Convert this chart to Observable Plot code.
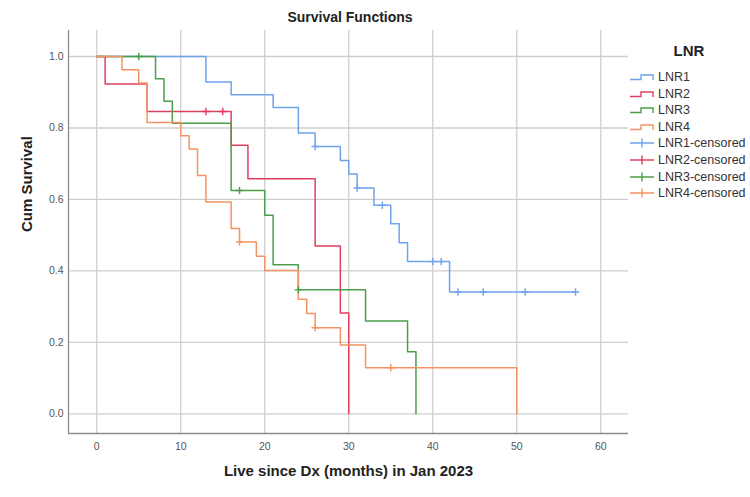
<!DOCTYPE html>
<html>
<head>
<meta charset="utf-8">
<script src="https://cdn.jsdelivr.net/npm/d3@7"></script>
<script src="https://cdn.jsdelivr.net/npm/@observablehq/plot@0.6"></script>
<style>
  html, body { margin: 0; padding: 0; background: #fff; }
  body { font-family: "Liberation Sans", Arial, sans-serif; }
  #wrap { position: relative; width: 750px; height: 497px; overflow: hidden; }
  #title { position: absolute; top: 0; left: 0; width: 700px; height: 30px; line-height: 34px;
           text-align: center; font-weight: bold; font-size: 14px; color: #222; }
  #chart { position: absolute; top: 30px; left: 0; }
  #legend { position: absolute; left: 628px; top: 40px; width: 122px; }
  #legend .head { position: absolute; left: 0; width: 122px; top: 2px; text-align: center;
                  font-weight: bold; font-size: 15px; color: #222; }
  #legend .row { position: absolute; left: 0; height: 16px; display: flex; align-items: center;
                 font-size: 12.5px; color: #333; white-space: nowrap; }
  #legend svg { margin-right: 3px; flex: none; }
</style>
</head>
<body>
<div id="wrap">
  <div id="title">Survival Functions</div>
  <div id="chart"></div>
  <div id="legend"></div>
</div>
<script>
// Kaplan–Meier step curves per LNR group: event times (months) and cumulative survival
const groups = ["LNR1", "LNR2", "LNR3", "LNR4"];
const colors = ["#6fa3ea", "#e0405f", "#4c9f4a", "#f59462"];

const lnr1Time = [0, 13, 16, 21, 24, 26, 29, 30, 31, 33, 35, 36, 37, 42, 57];
const lnr1Surv = [1, 0.929, 0.893, 0.857, 0.786, 0.748, 0.709, 0.671, 0.632, 0.584, 0.532, 0.479, 0.426, 0.341, 0.341];
const lnr1Censored = [26, 31, 34, 40, 41, 43, 46, 51, 57];

const lnr2Time = [0, 1, 6, 16, 18, 26, 29, 30];
const lnr2Surv = [1, 0.923, 0.846, 0.752, 0.658, 0.470, 0.282, 0];
const lnr2Censored = [13, 15];

const lnr3Time = [0, 7, 8, 9, 16, 20, 21, 24, 32, 37, 38];
const lnr3Surv = [1, 0.938, 0.875, 0.813, 0.625, 0.556, 0.417, 0.347, 0.260, 0.174, 0];
const lnr3Censored = [5, 17, 24];

const lnr4Time = [0, 3, 5, 6, 10, 11, 12, 13, 16, 17, 19, 20, 24, 25, 26, 29, 32, 50];
const lnr4Surv = [1, 0.963, 0.926, 0.815, 0.778, 0.741, 0.667, 0.593, 0.519, 0.481, 0.441, 0.401, 0.321, 0.281, 0.241, 0.193, 0.129, 0];
const lnr4Censored = [17, 26, 35];

const xTicks = [0, 10, 20, 30, 40, 50, 60];
const yTicks = [0, 0.2, 0.4, 0.6, 0.8, 1.0];
const xDomain = [-3.36, 63.3];
const yDomain = [-0.055, 1.0728];

const xLabel = "Live since Dx (months) in Jan 2023";
const yLabel = "Cum Survival";

// Build long-format tables for the step lines and the censoring marks
const series = [
  [lnr1Time, lnr1Surv, lnr1Censored],
  [lnr2Time, lnr2Surv, lnr2Censored],
  [lnr3Time, lnr3Surv, lnr3Censored],
  [lnr4Time, lnr4Surv, lnr4Censored]
];
const steps = [];
const censors = [];
series.forEach(([times, surv, cens], i) => {
  times.forEach((t, j) => steps.push({group: groups[i], time: t, surv: surv[j]}));
  // a censored case sits on the curve's current level (step-after lookup)
  cens.forEach(t => {
    let k = 0;
    for (let j = 0; j < times.length; j++) if (times[j] <= t) k = j;
    censors.push({group: groups[i], time: t, surv: surv[k]});
  });
});

// "+" glyph used for censored observations
const crossSymbol = {
  draw(context, size) {
    const r = Math.sqrt(size) / 2;
    context.moveTo(0, -r); context.lineTo(0, r);
    context.moveTo(-r, 0); context.lineTo(r, 0);
  }
};

const gridColor = "#cfcfcf";
const axisColor = "#8c8c8c";

const chart = Plot.plot({
  width: 750,
  height: 467,
  marginTop: 0,
  marginLeft: 68,
  marginRight: 122,
  marginBottom: 64,
  style: {fontFamily: '"Liberation Sans", Arial, sans-serif', background: "transparent"},
  x: {domain: xDomain},
  y: {domain: yDomain},
  color: {domain: groups, range: colors},
  marks: [
    Plot.gridX(xTicks, {stroke: gridColor, strokeOpacity: 1, strokeWidth: 1.3}),
    Plot.gridY(yTicks, {stroke: gridColor, strokeOpacity: 1, strokeWidth: 1.3}),
    Plot.ruleY([yDomain[0]], {stroke: axisColor, strokeWidth: 1.3}),
    Plot.ruleX([xDomain[0]], {stroke: axisColor, strokeWidth: 1.3}),
    Plot.axisX(xTicks, {tickSize: 0, tickPadding: 9, fontSize: 10.5, fill: "#555", label: null}),
    Plot.axisY(yTicks, {tickSize: 0, tickPadding: 5, fontSize: 10.5, fill: "#555", label: null,
                        tickFormat: d => d.toFixed(1)}),
    Plot.line(steps, {x: "time", y: "surv", z: "group", stroke: "group", curve: "step-after",
                      strokeWidth: 1.5}),
    Plot.dot(censors, {x: "time", y: "surv", stroke: "group", symbol: crossSymbol, r: 4.2,
                       fill: "none", strokeWidth: 1.4}),
    Plot.text([xLabel], {frameAnchor: "bottom", dy: 42, fontSize: 15, fontWeight: "bold",
                         fill: "#222", text: d => d}),
    Plot.text([yLabel], {frameAnchor: "left", dx: -41, rotate: -90, fontSize: 15,
                         fontWeight: "bold", fill: "#222", text: d => d})
  ]
});
document.getElementById("chart").appendChild(chart);

// Legend: step glyphs for the survival curves, crosses for censored cases
const legend = document.getElementById("legend");
const head = document.createElement("div");
head.className = "head";
head.textContent = "LNR";
legend.appendChild(head);
const rowTop = 29;
const rowStep = 16.6;
const entries = [
  ...groups.map((g, i) => ({label: g, color: colors[i], kind: "step"})),
  ...groups.map((g, i) => ({label: g + "-censored", color: colors[i], kind: "cross"}))
];
entries.forEach((e, i) => {
  const row = document.createElement("div");
  row.className = "row";
  row.style.top = (rowTop + i * rowStep) + "px";
  const path = e.kind === "step"
    ? `<path d="M2,10.5 H13 V6 H25 V11" fill="none" stroke="${e.color}" stroke-width="1.4"/>`
    : `<path d="M2,8 H26 M14,3.5 V12.5" fill="none" stroke="${e.color}" stroke-width="1.4"/>`;
  row.innerHTML = `<svg width="27" height="16" viewBox="0 0 27 16">${path}</svg><span>${e.label}</span>`;
  legend.appendChild(row);
});
</script>
</body>
</html>
